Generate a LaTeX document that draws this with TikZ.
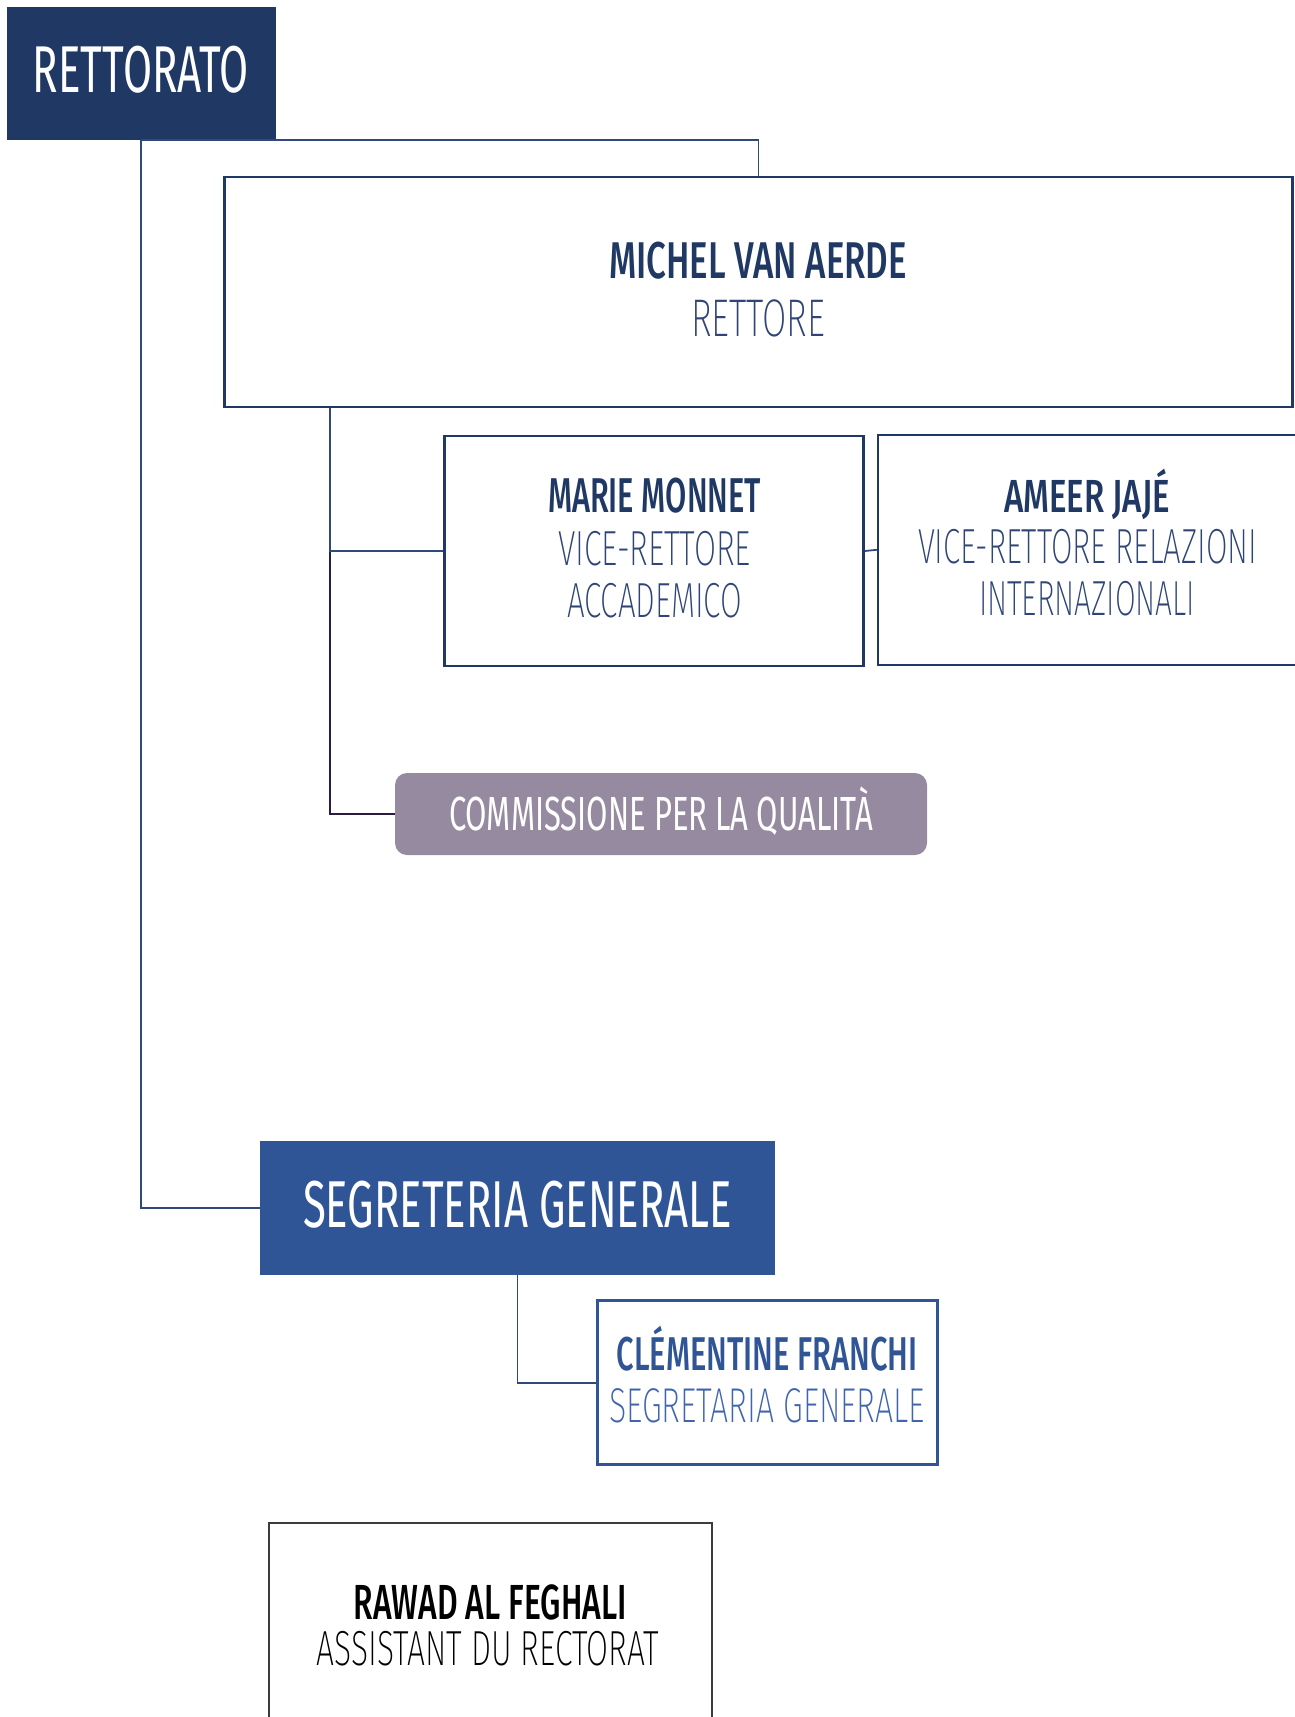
\documentclass[tikz,border=0pt]{standalone}
\usepackage{fontspec}
\usepackage{graphicx}
\IfFontExistsTF{Fira Sans ExtraLight}{\newfontfamily\lightf{Fira Sans ExtraLight}}{%
  \IfFontExistsTF{Fira Sans Light}{\newfontfamily\lightf{Fira Sans Light}}{\newfontfamily\lightf{Liberation Sans}}}
\IfFontExistsTF{Fira Sans Medium}{\newfontfamily\boldf{Fira Sans Medium}}{\newfontfamily\boldf{Liberation Sans Bold}}
\newfontfamily\regf{Fira Sans}
\newcommand{\tx}[4]{\resizebox{#1pt}{\height}{#2\fontsize{#3pt}{#3pt}\selectfont #4}}
\definecolor{navy}{HTML}{1F3864}
\definecolor{navyfill}{HTML}{203864}
\definecolor{lightnavy}{HTML}{2F4577}
\definecolor{connc}{HTML}{2F4A7A}
\definecolor{purpc}{HTML}{2B1B40}
\definecolor{commfill}{HTML}{968AA0}
\definecolor{segblue}{HTML}{2F5597}
\definecolor{seglight}{HTML}{3F65AE}
\definecolor{rawadb}{HTML}{3C3C3C}
\tikzset{
  lbl/.style={anchor=base, inner sep=0pt, outer sep=0pt},
  pbox/.style={draw=navy, line width=2.4pt, fill=white, inner sep=0pt},
  fbox/.style={inner sep=0pt, draw=none},
  conn/.style={draw=connc, line width=1.8pt},
}
\begin{document}
\begin{tikzpicture}[x=1pt,y=-1pt]
\useasboundingbox (0,0) rectangle (1295,1717);
\clip (0,0) rectangle (1295,1717);
% boxes
\node[fbox, fill=navyfill, minimum width=269.3pt, minimum height=133.4pt] (rett) at (141.25,73.3) {};
\node[pbox, minimum width=1068pt, minimum height=230pt] (michel) at (758.5,291.7) {};
\node[pbox, minimum width=419pt, minimum height=230pt] (marie) at (654,551) {};
\node[pbox, minimum width=418pt, minimum height=230pt] (ameer) at (1087,549.8) {};
\node[fbox, fill=commfill, rounded corners=12pt, minimum width=532pt, minimum height=82pt] (comm) at (661,814) {};
\node[fbox, fill=segblue, minimum width=515pt, minimum height=134pt] (segr) at (517.5,1208) {};
\node[pbox, draw=segblue, minimum width=340pt, minimum height=164pt] (clem) at (767.5,1382.6) {};
\node[pbox, draw=rawadb, line width=1.6pt, minimum width=443pt, minimum height=240pt] (rawad) at (490.5,1642.7) {};
% connectors
\draw[conn] (rett.south) -| (michel.north);
\draw[conn] (rett.south) |- (segr.west);
\coordinate (tap) at ([xshift=106.6pt]michel.south west);
\draw[conn, draw=purpc] (tap) |- (comm.west);
\draw[conn] (tap) |- (marie.west);
\draw[conn] (marie.east) -- (ameer.west);
\draw[conn] (segr.south) |- (clem.west);
% texts
\node[lbl, text=white] (t-rett) at (141,92.3) {\tx{216}{\regf}{66.2}{RETTORATO}};
\node[lbl, text=navy] (t-mich) at (758,278.3) {\tx{298}{\boldf}{51.7}{MICHEL VAN AERDE}};
\node[lbl, text=lightnavy] (t-rett2) at (758,336.5) {\tx{134}{\lightf}{53}{RETTORE}};
\node[lbl, text=navy] (t-marie) at (654.5,512.7) {\tx{213}{\boldf}{48.9}{MARIE MONNET}};
\node[lbl, text=lightnavy] (t-marie1) at (654.5,565) {\tx{193}{\lightf}{49.3}{VICE-RETTORE}};
\node[lbl, text=lightnavy] (t-marie2) at (654.5,617) {\tx{175}{\lightf}{49.3}{ACCADEMICO}};
\node[lbl, text=navy] (t-ameer) at (1087,512) {\tx{166}{\boldf}{46.4}{AMEER JAJÉ}};
\node[lbl, text=lightnavy] (t-ameer1) at (1087.5,563.5) {\tx{339}{\lightf}{49.3}{VICE-RETTORE RELAZIONI}};
\node[lbl, text=lightnavy] (t-ameer2) at (1087,615.7) {\tx{216}{\lightf}{49.3}{INTERNAZIONALI}};
\node[lbl, text=white] (t-comm) at (661,830.5) {\tx{424}{\regf}{47.9}{COMMISSIONE PER LA QUALITÀ}};
\node[lbl, text=white] (t-segr) at (517.5,1227) {\tx{429}{\regf}{66.3}{SEGRETERIA GENERALE}};
\node[lbl, text=segblue] (t-clem) at (767.3,1370.7) {\tx{301}{\boldf}{47.4}{CLÉMENTINE FRANCHI}};
\node[lbl, text=seglight] (t-clem1) at (767,1422.7) {\tx{316}{\lightf}{48.9}{SEGRETARIA GENERALE}};
\node[lbl, text=black] (t-rawad) at (490.3,1619) {\tx{273}{\boldf}{49.3}{RAWAD AL FEGHALI}};
\node[lbl, text=black] (t-rawad1) at (488,1665) {\tx{342}{\lightf}{49.3}{ASSISTANT DU RECTORAT}};
\end{tikzpicture}
\end{document}
